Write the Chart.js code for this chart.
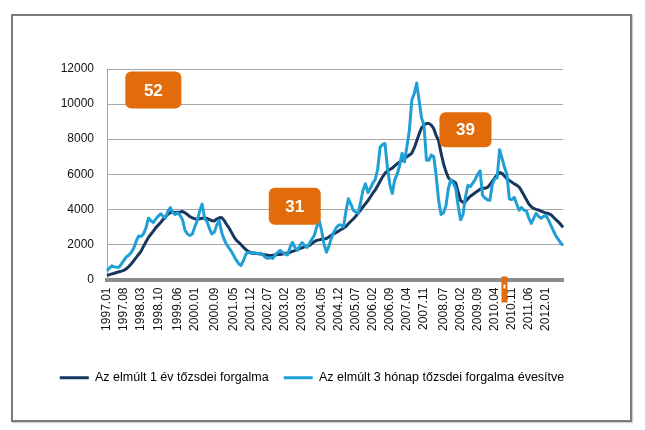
<!DOCTYPE html>
<html><head><meta charset="utf-8">
<script src="https://cdn.jsdelivr.net/npm/chart.js@4/dist/chart.umd.min.js"></script>
<style>
html,body{margin:0;padding:0;background:#fff;}
#wrap{position:relative;width:645px;height:430px;overflow:hidden;}
#frame{position:absolute;left:11px;top:14px;width:617px;height:404px;border:2px solid #7a7a7a;box-shadow:1px 1px 1px #cfcfcf;pointer-events:none;}
canvas{position:absolute;left:0;top:0;}
</style></head><body>
<div id="wrap"><canvas id="c" width="645" height="430"></canvas><div id="frame"></div></div>
<script>
// categories: monthly, 1997.01 .. 2012.08
const startYear = 1997;
const pointCount = 188;
const categories = [];
for (let k = 0; k < pointCount; k++) {
  const y = startYear + Math.floor(k / 12), m = (k % 12) + 1;
  categories.push(y + '.' + (m < 10 ? '0' : '') + m);
}
const tickLabels = ['1997.01','1997.08','1998.03','1998.10','1999.06','2000.01','2000.09','2001.05','2001.12','2002.07','2003.02','2003.09','2004.05','2004.12','2005.07','2006.02','2006.09','2007.04','2007.11','2008.07','2009.02','2009.09','2010.04','2010.11','2011.06','2012.01'];
const seriesNames = ['Az elmúlt 1 év tőzsdei forgalma', 'Az elmúlt 3 hónap tőzsdei forgalma évesítve'];
const yearTurnover = [
230,280,320,360,400,440,480,530,620,750,900,1080,1260,1440,1620,1900,2150,2400,2580,2760,
2950,3100,3250,3420,3580,3720,3820,3830,3820,3840,3850,3880,3800,3700,3580,3520,3460,3440,3460,3490,
3500,3480,3420,3350,3330,3450,3520,3530,3380,3150,2950,2700,2450,2250,2120,1980,1830,1700,1600,1530,
1500,1490,1470,1450,1420,1400,1380,1370,1380,1400,1420,1430,1450,1480,1510,1540,1600,1650,1700,1760,
1800,1860,1900,1940,2050,2150,2230,2260,2290,2310,2340,2420,2520,2600,2680,2760,2850,2930,3020,3180,
3320,3450,3600,3780,3960,4150,4320,4500,4700,4920,5100,5350,5600,5850,6050,6200,6280,6350,6480,6600,
6700,6800,6900,7000,7100,7200,7500,7900,8300,8650,8800,8900,8900,8800,8600,8200,7900,7200,6600,6150,
5800,5650,5600,5500,5000,4500,4400,4450,4600,4750,4850,4950,5050,5150,5200,5200,5250,5400,5600,5800,
5950,6100,6050,5900,5750,5650,5550,5450,5380,5270,5050,4800,4550,4300,4150,4050,4000,3960,3900,3840,
3800,3760,3700,3560,3420,3300,3150,2970];
const quarterTurnoverAnnualized = [
500,650,780,720,700,700,900,1100,1300,1400,1550,1800,2200,2480,2450,2600,2950,3500,3350,3250,
3450,3600,3750,3600,3500,3900,4100,3800,3700,3800,3650,3400,2800,2600,2500,2600,3000,3350,3900,4300,
3500,3300,2900,2600,2700,3100,3370,2700,2300,2000,1800,1600,1350,1100,900,800,1100,1450,1550,1500,
1550,1500,1480,1500,1400,1250,1200,1250,1200,1400,1550,1660,1550,1450,1400,1800,2110,1850,1660,1900,
2110,1950,1830,2050,2300,2500,3000,3370,2800,2000,1550,1900,2350,2700,2950,3100,3100,3000,3900,4600,
4300,3950,3850,3770,4400,5100,5450,4950,5200,5490,5700,6300,7540,7700,7750,6400,5400,4900,5700,6000,
6500,7200,6700,7600,8500,10230,10600,11200,10200,9200,8800,6800,6800,7100,7000,5900,4500,3700,3800,4200,
5200,5700,5500,5200,4200,3400,3700,4700,5370,5300,5490,5700,6000,6200,4800,4650,4550,4510,5400,5750,
5800,7400,6900,6400,6000,4600,4550,4690,4300,3950,4100,3950,3900,3500,3200,3500,3770,3600,3490,3600,
3660,3400,3100,2800,2500,2300,2100,1940];
const calloutLabels = ['52', '31', '39'];
const calloutCategories = ['1998.08', '2003.06', '2009.04'];
const calloutValues = [10800, 4170, 8540];
const markerCategory = '2010.08';

const ORANGE = '#e36c0a';
const calloutPlugin = {
  id: 'callouts',
  afterDatasetsDraw(chart) {
    const ctx = chart.ctx, xs = chart.scales.x, ys = chart.scales.y;
    const sizes = [[56, 37], [52, 37], [52, 35]];
    ctx.save();
    calloutLabels.forEach((t, i) => {
      const cx = xs.getPixelForValue(categories.indexOf(calloutCategories[i]));
      const cy = ys.getPixelForValue(calloutValues[i]);
      const [w, h] = sizes[i];
      ctx.beginPath();
      ctx.roundRect(cx - w / 2, cy - h / 2, w, h, 6);
      ctx.fillStyle = ORANGE;
      ctx.fill();
      ctx.fillStyle = '#fff';
      ctx.font = 'bold 17px "Liberation Sans", Arial, sans-serif';
      ctx.textAlign = 'center';
      ctx.textBaseline = 'middle';
      ctx.fillText(t, cx, cy + 1);
    });
    // small orange marker on the x axis
    const mx = xs.getPixelForValue(categories.indexOf(markerCategory));
    const by = chart.chartArea.bottom;
    ctx.fillStyle = ORANGE;
    ctx.fillRect(mx - 3, by - 3, 6, 26);
    ctx.fillStyle = '#fff';
    ctx.fillRect(mx - 1, by + 5, 2, 4);
    ctx.restore();
  }
};

new Chart(document.getElementById('c'), {
  type: 'line',
  data: {
    labels: categories,
    datasets: [
      { label: seriesNames[0], data: yearTurnover, borderColor: '#17375e', backgroundColor: '#17375e', borderWidth: 3, pointRadius: 0, tension: 0, order: 1, borderJoinStyle: 'round' },
      { label: seriesNames[1], data: quarterTurnoverAnnualized, borderColor: '#1f9fd4', backgroundColor: '#1f9fd4', borderWidth: 3, pointRadius: 0, tension: 0, order: 0, borderJoinStyle: 'round' }
    ]
  },
  options: {
    responsive: false,
    animation: false,
    layout: { padding: { left: 0, right: 21, top: 69, bottom: 36 } },
    plugins: {
      legend: {
        position: 'bottom',
        labels: {
          boxWidth: 29, boxHeight: 3, padding: 15, color: '#000',
          font: { family: '"Liberation Sans", Arial, sans-serif', size: 12.5 },
          sort: (a, b) => a.datasetIndex - b.datasetIndex,
          generateLabels(chart) {
            const items = Chart.defaults.plugins.legend.labels.generateLabels(chart);
            items.forEach(it => { it.lineWidth = 0; it.fillStyle = it.strokeStyle; });
            return items;
          }
        }
      },
      tooltip: { enabled: false }
    },
    scales: {
      x: {
        type: 'category', offset: false,
        grid: { display: false, drawTicks: false },
        border: { display: true, color: '#8c8c8c', width: 4 },
        ticks: {
          autoSkip: false, maxRotation: 90, minRotation: 90, padding: 8, color: '#111',
          font: { family: '"Liberation Sans", Arial, sans-serif', size: 12 },
          callback(v, i) { const l = categories[i]; return tickLabels.includes(l) ? l : null; }
        },
        afterFit(s) { s.height = 77; }
      },
      y: {
        min: 0, max: 12000,
        ticks: { stepSize: 2000, padding: 13, color: '#111', font: { family: '"Liberation Sans", Arial, sans-serif', size: 12 },
          callback: (v) => String(v) },
        grid: { color: '#a6a6a6', drawTicks: false },
        border: { display: true, color: '#a6a6a6' },
        afterFit(s) { s.width = 107; }
      },
      yr: {
        position: 'right', display: true,
        grid: { display: false, drawTicks: false }, border: { display: false },
        ticks: { display: false },
        afterFit(s) { s.width = 61; }
      }
    }
  },
  plugins: [calloutPlugin]
});
</script>
</body></html>
